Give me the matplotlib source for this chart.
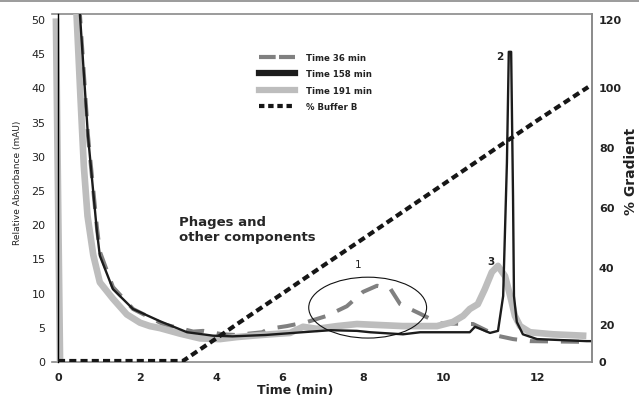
import numpy as np
import matplotlib
matplotlib.use("Agg")
import matplotlib.pyplot as plt
from matplotlib.lines import Line2D
from matplotlib.patches import Ellipse

plt.rcParams['font.family'] = ['DejaVu Sans']

# ---------------- data ----------------
t36 = [0.52, 0.73, 0.95, 1.02, 1.34, 1.83, 2.6, 3.4, 3.66, 4.2, 4.6, 5.4, 5.6, 6.12,
       6.62, 7.11, 7.6, 8.0, 8.35, 8.68, 8.93, 9.43, 9.8, 9.93, 10.64, 11.15, 11.49,
       11.85, 12.98]
a36 = [52, 33, 19.5, 16, 10.8, 7.6, 5.4, 4.3, 4.4, 3.9, 3.8, 4.2, 4.7, 5.1,
       5.7, 6.6, 8.0, 10.1, 11.0, 10.6, 8.3, 6.9, 5.8, 5.5, 5.4, 3.7, 3.2,
       2.9, 2.8]

t158 = [0.52, 0.73, 0.95, 1.02, 1.34, 1.83, 2.53, 3.24, 3.92, 4.5, 5.5, 6.5, 7.2,
        7.85, 8.18, 9.0, 9.43, 10.57, 10.68, 10.79, 11.0, 11.17, 11.28, 11.36, 11.40,
        11.45, 11.49, 11.51, 11.57, 11.70, 12.0, 13.06, 13.13]
a158 = [52, 33, 18.9, 15.4, 10.5, 7.6, 5.8, 4.2, 3.7, 3.6, 3.8, 4.2, 4.5,
        4.4, 4.2, 3.9, 4.2, 4.2, 5.0, 4.7, 4.1, 4.4, 9.5, 29, 45.2,
        45.2, 24, 9.5, 5.7, 3.9, 3.2, 2.9, 2.9]

t191 = [0.05, -0.05, np.nan, 0.45, 0.55, 0.63, 0.72, 0.86, 1.02, 1.34, 1.68, 2.0, 2.26,
        2.53, 3.05, 3.58, 4.12, 4.64, 5.12, 5.64, 6.2, 6.52, 6.86, 7.36, 7.85, 9.0, 9.85,
        10.21, 10.43, 10.57, 10.74, 10.89, 11.04, 11.17, 11.32, 11.43, 11.53, 11.64,
        11.85, 12.34, 12.98]
a191 = [0, 49.6, np.nan, 51, 38.3, 28.5, 21.2, 15.5, 11.5, 9.1, 6.8, 5.6, 5.1,
        4.8, 4.0, 3.3, 3.2, 3.5, 3.7, 3.9, 4.1, 5.0, 4.7, 5.1, 5.4, 5.1, 5.1,
        5.7, 6.6, 7.6, 8.3, 10.5, 13.0, 13.9, 12.4, 9.5, 6.6, 5.1,
        4.2, 3.9, 3.7]

t_grad = [0, 3.13, 4.0, 4.64, 6.0, 6.97, 8.0, 9.17, 10.0, 11.17, 12.0, 13.09]
b_grad = [0, 0, 12.1, 20, 30.6, 40, 49.4, 60, 67.5, 80, 88.8, 100]

x_ticks = [0, 2, 4, 6, 8, 10, 12]
y_ticks = [0, 5, 10, 15, 20, 25, 30, 35, 40, 45, 50]
g_ticks = [0, 20, 40, 60, 80, 100, 120]

series_labels = ["Time 36 min", "Time 158 min", "Time 191 min", "% Buffer B"]

# ---------------- axis scales (the original axes are unevenly spaced) ----------------
XK = np.array([-1, 0, 2, 4, 6, 8, 10, 12, 15], float)
XP = np.array([17, 58, 140, 216, 282, 363, 443, 537, 678], float)
GK = np.array([-20, 0, 20, 40, 60, 80, 100, 120, 140], float)
GP = np.array([-37, 0, 37, 94, 154, 214, 274, 342, 410], float)

def xf(v):
    return np.interp(v, XK, XP)

def xi(v):
    return np.interp(v, XP, XK)

def gf(v):
    return np.interp(v, GK, GP)

def gi(v):
    return np.interp(v, GP, GK)

W, H = 639, 406
fig = plt.figure(figsize=(W / 100, H / 100), dpi=100)
ax = fig.add_axes([52 / W, 1 - 363 / H, 540 / W, 348 / H])
ax.set_xscale('function', functions=(xf, xi))
ax.set_xlim(xi(52), xi(592))
ax.set_ylim(-0.15, 50.73)

C36 = '#808080'
C158 = '#1c1c1c'
C191 = '#bdbdbd'
CGR = '#161616'

ax.plot(t36, a36, color=C36, lw=2.9, dashes=(4.5, 3.2), zorder=2, solid_capstyle='butt')
ax.plot(t191, a191, color=C191, lw=4.8, zorder=3, solid_joinstyle='round')
ax.plot(t158, a158, color=C158, lw=1.7, zorder=4)

ax.add_patch(Ellipse((8.125, 7.8), width=2.93, height=8.9, fill=False,
                     edgecolor='#111111', lw=0.8, zorder=5))

ax.text(7.88, 14.2, "1", fontsize=7.5, ha='center', va='center', color='#222222')
ax.text(11.21, 44.6, "2", fontsize=7.5, ha='center', va='center', color='#222222',
        fontweight='bold')
ax.text(11.02, 14.6, "3", fontsize=7.5, ha='center', va='center', color='#222222',
        fontweight='bold')
ax.text(3.03, 21.3, "Phages and\nother components", fontsize=9.5, ha='left', va='top',
        color='#262626', linespacing=1.2, fontweight='bold')

ax.set_xticks(x_ticks)
ax.set_xticklabels([str(v) for v in x_ticks])
ax.set_yticks(y_ticks)
ax.set_yticklabels([str(v) for v in y_ticks])
ax.tick_params(axis='x', which='major', length=0, pad=7, labelsize=8, labelcolor='#222222')
ax.tick_params(axis='y', length=0, pad=9, labelsize=8, labelcolor='#222222')
for lab in ax.get_xticklabels() + ax.get_yticklabels():
    lab.set_fontweight('bold')
ax.set_xticks([0], minor=True)
ax.tick_params(axis='x', which='minor', length=8, width=1, color='black')

ax.spines['left'].set_position(('data', 0))
ax.spines['left'].set_color('black')
ax.spines['left'].set_linewidth(1.0)
ax.spines['left'].set_zorder(4.5)
for s in ('top', 'bottom', 'right'):
    ax.spines[s].set_color('#8a8a8a')
    ax.spines[s].set_linewidth(1.2)

ax2 = ax.twinx()
ax2.set_yscale('function', functions=(gf, gi))
ax2.set_ylim(gi(-1), gi(347))
ax2.plot(t_grad, b_grad, color=CGR, lw=3.0, dashes=(1.7, 1.0), zorder=6)
ax2.set_yticks(g_ticks)
ax2.set_yticklabels([str(v) for v in g_ticks])
ax2.tick_params(axis='y', length=0, pad=5, labelsize=8, labelcolor='#222222')
for lab in ax2.get_yticklabels():
    lab.set_fontweight('bold')
for s in ('top', 'bottom', 'left'):
    ax2.spines[s].set_visible(False)
ax2.spines['right'].set_color('#8a8a8a')
ax2.spines['right'].set_linewidth(1.2)

# axis titles
fig.text(17.5 / W, 1 - 183 / H, "Relative Absorbance (mAU)", rotation=90, ha='center',
         va='center', fontsize=6.5, color='#222222')
fig.text(631 / W, 1 - 171 / H, "% Gradient", rotation=90, ha='center', va='center',
         fontsize=10, color='#222222', fontweight='bold')
fig.text(295 / W, 1 - 391 / H, "Time (min)", ha='center', va='center', fontsize=9,
         color='#222222', fontweight='bold')

# top border line of the figure
fig.add_artist(Line2D([0, 1], [1 - 1.5 / H, 1 - 1.5 / H], transform=fig.transFigure,
                      color='#8a8a8a', lw=1.2))

# legend (proxy handles in the same styles)
handles = [
    Line2D([], [], color=C36, lw=3.0, dashes=(4.0, 0.8)),
    Line2D([], [], color=C158, lw=4.5),
    Line2D([], [], color=C191, lw=4.5),
    Line2D([], [], color=CGR, lw=3.0, dashes=(1.3, 0.9)),
]
leg = fig.legend(handles, series_labels, loc='upper left',
                 bbox_to_anchor=(259 / W, 1 - 54 / H), frameon=False, fontsize=6.2,
                 handlelength=4.2, handletextpad=1.2, labelspacing=0.85,
                 borderpad=0, borderaxespad=0)
for t in leg.get_texts():
    t.set_color('#222222')
    t.set_fontweight('bold')

fig.savefig("out.png", dpi=100)
